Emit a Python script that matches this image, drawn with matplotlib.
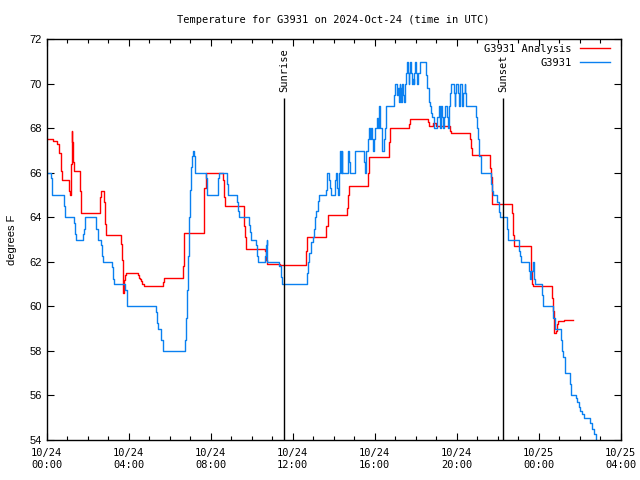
import pandas as pd
import matplotlib
matplotlib.use("Agg")
import matplotlib.pyplot as plt
import matplotlib.dates as mdates

plt.rcParams["font.family"] = ["DejaVu Sans Mono"]

START = pd.Timestamp("2024-10-24 00:00")

# hours after 10/24 00:00 UTC, step values in degrees F
analysis_hours = [
    0.00, 0.31, 0.51, 0.62, 0.70, 0.73, 1.09, 1.12, 1.16, 1.19, 1.22, 1.25, 1.27, 1.32,
    1.63, 1.68, 2.59, 2.63, 2.68, 2.78, 2.83, 2.86, 2.90, 3.61, 3.66, 3.71, 3.74, 3.79,
    3.82, 3.87, 4.44, 4.49, 4.54, 4.60, 4.67, 4.73, 5.66, 5.71, 6.65, 6.68, 6.72, 7.66,
    7.69, 7.76, 8.59, 8.63, 8.68, 9.61, 9.66, 9.71, 10.63, 10.68, 10.73, 11.40, 12.67,
    12.70, 13.63, 13.71, 14.65, 14.72, 14.75, 15.66, 15.71, 16.72, 16.77, 17.66, 17.74,
    18.59, 18.63, 18.85, 18.99, 19.66, 19.73, 20.64, 20.68, 20.73, 21.64, 21.69, 21.74,
    22.70, 22.73, 22.78, 23.60, 23.64, 23.69, 23.71, 24.65, 24.70, 24.72, 24.73, 24.86,
    24.90, 24.96, 25.22, 25.46, 25.68,
]
analysis_temp = [
    67.5, 67.45, 67.3, 66.9, 66.1, 65.7, 65.5, 65.2, 65.0, 66.4, 67.9, 67.4, 66.5, 66.1,
    65.2, 64.2, 64.4, 64.9, 65.2, 64.7, 64.2, 63.7, 63.2, 62.8, 62.1, 61.3, 60.6, 61.2,
    61.4, 61.5, 61.4, 61.3, 61.25, 61.15, 61.0, 60.9, 61.1, 61.3, 61.8, 62.6, 63.3, 64.0,
    65.3, 66.0, 65.7, 64.9, 64.5, 63.6, 63.1, 62.6, 62.5, 62.1, 61.9, 61.85, 62.5,
    63.1, 63.6, 64.1, 64.4, 65.0, 65.4, 66.0, 66.7, 67.4, 68.0, 68.2, 68.4,
    68.3, 68.1, 68.25, 68.1, 67.9, 67.8, 67.5, 67.1, 66.8, 66.2, 65.8, 64.6,
    64.2, 63.2, 62.7, 62.2, 61.6, 61.0, 60.9, 60.4, 59.8, 59.2, 58.8, 58.9,
    59.2, 59.35, 59.4, 59.37, 59.37,
]

obs_hours = [
    0.00, 0.23, 0.29, 0.83, 0.88, 1.32, 1.38, 1.42, 1.76, 1.81, 1.89, 2.42, 2.49, 2.67,
    2.72, 2.77, 3.17, 3.24, 3.27, 3.84, 3.90, 5.32, 5.38, 5.43, 5.58, 5.66, 6.73, 6.78,
    6.83, 6.88, 6.93, 6.98, 7.04, 7.09, 7.14, 7.19, 7.24, 7.76, 7.81, 8.36, 8.41, 8.80,
    8.85, 9.29, 9.34, 9.38, 9.85, 9.90, 9.95, 10.21, 10.26, 10.31, 10.63, 10.68, 10.73,
    10.76, 11.35, 11.42, 11.47, 12.68, 12.73, 12.81, 12.90, 12.98, 13.03, 13.11, 13.16,
    13.22, 13.27, 13.63, 13.66, 13.69, 13.76, 13.81, 13.87, 14.05, 14.10, 14.16, 14.21,
    14.24, 14.33, 14.36, 14.39, 14.42, 14.68, 14.72, 14.77, 14.81, 15.06, 15.46, 15.55,
    15.60, 15.68, 15.71, 15.76, 15.82, 15.87, 15.92, 15.97, 16.03, 16.11, 16.15, 16.20,
    16.25, 16.28, 16.38, 16.44, 16.49, 16.57, 16.93, 16.98, 17.09, 17.14, 17.17, 17.22,
    17.25, 17.28, 17.33, 17.37, 17.42, 17.50, 17.53, 17.58, 17.63, 17.66, 17.69, 17.74,
    17.77, 17.82, 17.87, 17.90, 17.93, 17.98, 18.03, 18.06, 18.11, 18.20, 18.49, 18.55,
    18.63, 18.68, 18.75, 18.80, 18.88, 19.04, 19.12, 19.17, 19.20, 19.25, 19.30, 19.33,
    19.40, 19.45, 19.53, 19.56, 19.64, 19.69, 19.73, 19.85, 19.90, 19.93, 19.98, 20.05,
    20.10, 20.15, 20.18, 20.26, 20.31, 20.39, 20.42, 20.47, 20.96, 21.01, 21.06, 21.11,
    21.16, 21.69, 21.72, 21.75, 21.97, 22.04, 22.10, 22.45, 22.50, 23.03, 23.08, 23.12,
    23.52, 23.57, 23.60, 23.71, 23.76, 23.81, 24.16, 24.21, 24.70, 24.77, 25.06, 25.11,
    25.20, 25.30, 25.50, 25.55, 25.80, 25.87, 25.95, 26.03, 26.10, 26.23, 26.52, 26.60,
    26.68, 26.77, 26.85,
]
obs_temp = [
    66.0, 65.75, 65.0, 64.5, 64.0, 63.75, 63.25, 63.0, 63.25, 63.5, 64.0, 63.5, 63.0, 62.75,
    62.25, 62.0, 61.75, 61.25, 61.0, 60.75, 60.0, 59.75, 59.25, 59.0, 58.5, 58.0, 58.5, 59.5,
    60.75, 62.25, 64.0, 65.25, 66.25, 66.75, 67.0, 66.75, 66.0, 65.75, 65.0, 65.75, 66.0, 65.5,
    65.0, 64.7, 64.3, 64.0, 63.66, 63.35, 63.0, 62.75, 62.25, 62.0, 62.25, 62.75, 63.0,
    62.0, 61.8, 61.33, 61.0, 61.5, 62.0, 62.4, 62.9, 63.1, 63.5, 64.0, 64.3,
    64.75, 65.0, 65.25, 65.7, 66.0, 65.7, 65.3, 65.0, 65.7, 66.0, 65.3, 65.0,
    66.0, 67.0, 66.0, 67.0, 66.0, 66.5, 67.0, 66.5, 66.0, 67.0, 66.5, 66.0,
    67.0, 67.5, 68.0, 67.5, 68.0, 67.5, 67.0, 67.5, 68.0, 68.45, 68.0, 69.0,
    68.5, 68.0, 67.0, 67.5, 68.0, 69.0, 69.5, 70.0, 69.5, 69.8, 69.2, 70.0,
    69.8, 69.2, 70.0, 69.5, 69.2, 70.0, 70.5, 71.0, 70.5, 70.0, 70.5, 71.0,
    70.5, 70.0, 70.2, 70.0, 70.5, 71.0, 70.5, 70.0, 70.5, 71.0, 70.4, 69.8,
    69.2, 69.0, 68.7, 68.5, 68.0, 68.5, 69.0, 68.7, 68.0, 69.0, 68.5, 68.0,
    68.5, 69.0, 68.5, 68.0, 69.0, 69.6, 70.0, 69.6, 69.0, 69.6, 70.0, 69.6,
    69.0, 69.6, 70.0, 69.0, 69.6, 70.0, 69.6, 69.0, 68.5, 68.0, 67.5, 66.75,
    66.0, 65.5, 65.2, 65.0, 64.7, 64.25, 64.0, 63.5, 63.0, 62.5, 62.25, 62.0,
    61.6, 61.25, 61.6, 62.0, 61.25, 61.0, 60.5, 60.0, 59.5, 59.0, 58.5, 58.0,
    57.75, 57.0, 56.5, 56.0, 55.9, 55.7, 55.5, 55.3, 55.15, 55.0, 54.75, 54.5,
    54.25, 53.9, 53.5,
]

sun_events = ["Sunrise", "Sunset"]
sun_hours = [11.57, 22.26]


def to_time(hours):
    return START + pd.to_timedelta(hours, unit="h")


fig = plt.figure(figsize=(6.4, 4.8), dpi=100)
ax = fig.add_axes([0.0727, 0.0833, 0.8973, 0.8348])

ax.plot(to_time(analysis_hours), analysis_temp, drawstyle="steps-post",
        color="#ff0000", linewidth=1.0, label="G3931 Analysis")
ax.plot(to_time(obs_hours), obs_temp, drawstyle="steps-post",
        color="#0a80f0", linewidth=1.0, label="G3931")

for name, h in zip(sun_events, sun_hours):
    t = to_time([h])[0]
    ax.vlines(t, 54, 69.38, color="black", linewidth=1.0)
    ax.text(t, 69.62, name, rotation=90, ha="center", va="bottom", fontsize=7.5)

ax.set_xlim(to_time([0])[0], to_time([28])[0])
ax.set_ylim(54, 72)
ax.set_yticks(range(54, 73, 2))
ax.xaxis.set_major_locator(mdates.HourLocator(byhour=range(0, 24, 4)))
ax.xaxis.set_minor_locator(mdates.HourLocator())
ax.xaxis.set_major_formatter(mdates.DateFormatter("%m/%d\n%H:%M"))

ax.tick_params(which="both", direction="in", top=True, right=True, labelsize=7.5)
ax.tick_params(which="major", length=5, width=0.8)
ax.tick_params(which="minor", length=3, width=0.8)
ax.tick_params(axis="x", pad=6)
for lbl in ax.get_yticklabels():
    lbl.set_family("Liberation Sans")
    lbl.set_fontsize(8)
for s in ax.spines.values():
    s.set_linewidth(1.0)

ax.set_title("Temperature for G3931 on 2024-Oct-24 (time in UTC)", fontsize=7.5, pad=12)
ax.set_ylabel("degrees F", family="Liberation Sans", fontsize=8, labelpad=9)

ax.legend(loc="upper right", bbox_to_anchor=(0.981, 0.988), frameon=False,
          markerfirst=False, fontsize=7.5, handlelength=2.9, handletextpad=0.8,
          labelspacing=0.35, borderaxespad=0, borderpad=0)

fig.savefig("out.png", dpi=100)
